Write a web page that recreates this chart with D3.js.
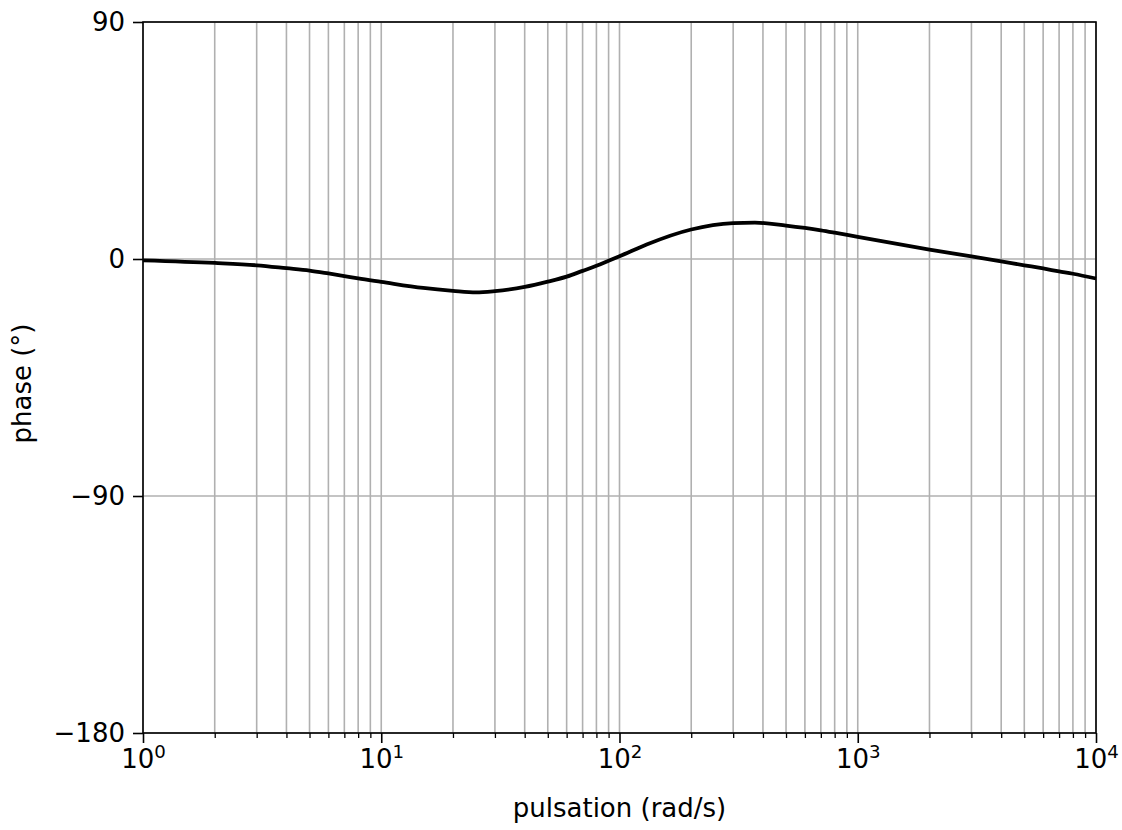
<!DOCTYPE html>
<html>
<head>
<meta charset="utf-8">
<script src="https://cdn.jsdelivr.net/npm/d3@7"></script>
<style>
  body { margin: 0; background: #fff; }
  text { font-family: "DejaVu Sans", sans-serif; fill: #000; }
</style>
</head>
<body>
<div id="chart"></div>
<script>
// ── data ─────────────────────────────────────────────────────────────────────
const pulsation = [1, 2, 3, 4, 5, 6, 7, 8, 10, 15, 20, 25, 30, 40, 50, 60, 70, 80, 90,
                   100, 130, 200, 300, 370, 500, 600, 700, 800, 1000,
                   2000, 3000, 4000, 5000, 6000, 7000, 8000, 10000];
const phase     = [-0.5, -1.5, -2.4, -3.5, -4.4, -5.5, -6.5, -7.4, -8.7, -11.0, -12.1, -12.7, -12.2, -10.6, -8.6, -6.7, -4.5, -2.6, -0.7,
                   1.0, 5.5, 11.2, 13.6, 13.8, 12.7, 11.8, 10.9, 10.0, 8.4,
                   3.6, 1.0, -0.9, -2.4, -3.6, -4.7, -5.6, -7.4];
const xMajorTicks = [1, 10, 100, 1000, 10000];
const xTickExp    = ['0', '1', '2', '3', '4'];
const yTicks      = [90, 0, -90, -180];
const yTickLabels = ['90', '0', '\u221290', '\u2212180'];

// ── layout ───────────────────────────────────────────────────────────────────
const W = 1122, H = 830;
const margin = { left: 143, right: 26, top: 22, bottom: 97 };
const width  = W - margin.left - margin.right;
const height = H - margin.top  - margin.bottom;
const fs = 26;

const xScale = d3.scaleLog().domain([1, 10000]).range([0, width]);
const yScale = d3.scaleLinear().domain([-180, 90]).range([height, 0]);

// minor ticks: 2..9 in every decade
const xMinorTicks = [];
xMajorTicks.slice(0, -1).forEach(d => {
  for (let k = 2; k <= 9; k++) xMinorTicks.push(d * k);
});

const svg = d3.select('#chart').append('svg')
  .attr('width', W).attr('height', H);

const g = svg.append('g')
  .attr('transform', `translate(${margin.left},${margin.top})`);

// ── grid ─────────────────────────────────────────────────────────────────────
const gridColor = '#b0b0b0';
g.append('g').selectAll('line')
  .data(xMajorTicks.concat(xMinorTicks))
  .join('line')
    .attr('x1', d => xScale(d)).attr('x2', d => xScale(d))
    .attr('y1', 0).attr('y2', height)
    .attr('stroke', gridColor).attr('stroke-width', 1.6);

g.append('g').selectAll('line')
  .data(yTicks)
  .join('line')
    .attr('x1', 0).attr('x2', width)
    .attr('y1', d => yScale(d)).attr('y2', d => yScale(d))
    .attr('stroke', gridColor).attr('stroke-width', 1.6);

// ── curve ────────────────────────────────────────────────────────────────────
const line = d3.line()
  .x((d, i) => xScale(pulsation[i]))
  .y(d => yScale(d))
  .curve(d3.curveMonotoneX);

g.append('path')
  .datum(phase)
  .attr('fill', 'none')
  .attr('stroke', '#000')
  .attr('stroke-width', 3.8)
  .attr('d', line);

// ── axes ─────────────────────────────────────────────────────────────────────
const xAxis = g.append('g')
  .attr('transform', `translate(0,${height})`)
  .call(d3.axisBottom(xScale).tickValues(xMajorTicks).tickSize(10).tickPadding(8).tickFormat(''))
  .call(a => a.select('.domain').remove())
  .call(a => a.selectAll('.tick line').attr('stroke-width', 1.6));

xAxis.selectAll('.tick').append('text')
  .attr('y', 35)
  .attr('text-anchor', 'middle')
  .style('font-size', fs + 'px')
  .each(function(d, i) {
    const t = d3.select(this);
    t.append('tspan').text('10');
    t.append('tspan').attr('dy', -10).style('font-size', (fs * 0.7) + 'px').text(xTickExp[i]);
  });

g.append('g')
  .attr('transform', `translate(0,${height})`)
  .call(d3.axisBottom(xScale).tickValues(xMinorTicks).tickSize(5).tickFormat(''))
  .call(a => a.select('.domain').remove())
  .call(a => a.selectAll('.tick line').attr('stroke-width', 1.3));

g.append('g')
  .call(d3.axisLeft(yScale).tickValues(yTicks).tickSize(10).tickPadding(8)
    .tickFormat((d, i) => yTickLabels[i]))
  .call(a => a.select('.domain').remove())
  .call(a => a.selectAll('.tick line').attr('stroke-width', 1.6))
  .call(a => a.selectAll('.tick text')
    .style('font-size', fs + 'px')
    .style('font-family', '"DejaVu Sans", sans-serif'));

// frame
g.append('rect')
  .attr('width', width).attr('height', height)
  .attr('fill', 'none').attr('stroke', '#000').attr('stroke-width', 1.6);

// ── labels ───────────────────────────────────────────────────────────────────
g.append('text')
  .attr('x', width / 2)
  .attr('y', height + 84)
  .attr('text-anchor', 'middle')
  .style('font-size', fs + 'px')
  .text('pulsation (rad/s)');

g.append('text')
  .attr('transform', 'rotate(-90)')
  .attr('x', -height / 2 - 6)
  .attr('y', -112)
  .attr('text-anchor', 'middle')
  .style('font-size', fs + 'px')
  .text('phase (°)');
</script>
</body>
</html>
